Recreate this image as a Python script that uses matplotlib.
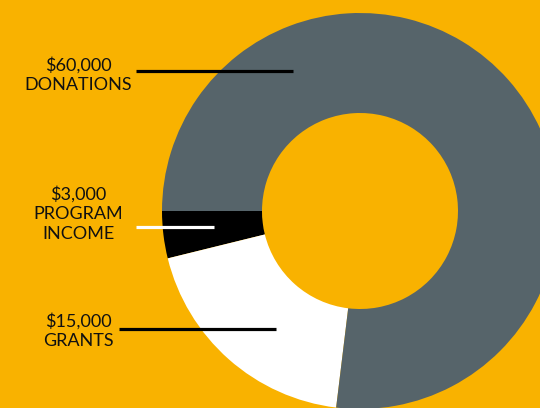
import matplotlib.pyplot as plt

# Data
categories = ['DONATIONS', 'PROGRAM\nINCOME', 'GRANTS']
amounts = [60000, 3000, 15000]
colors = {'DONATIONS': '#56646A', 'PROGRAM\nINCOME': '#000000', 'GRANTS': '#FFFFFF'}

# label layout (pixel space, y measured from top)
label_x = 78
label_y = {'DONATIONS': 75, 'PROGRAM\nINCOME': 214, 'GRANTS': 331}
leader = {'DONATIONS': (136, 293, 71, 'black'),
          'PROGRAM\nINCOME': (136, 214, 227, 'white'),
          'GRANTS': (119, 276, 329, 'black')}

bg = '#F9B200'
W, H = 540, 408

fig = plt.figure(figsize=(5.4, 4.08), dpi=100, facecolor=bg)
ax = fig.add_axes([0, 0, 1, 1])
ax.set_facecolor(bg)

# wedge order: program income, grants, donations, going counter-clockwise from the left
order = ['PROGRAM\nINCOME', 'GRANTS', 'DONATIONS']
vals = [amounts[categories.index(c)] for c in order]
ax.pie(vals, colors=[colors[c] for c in order], startangle=180, counterclock=True,
       center=(360, H - 211), radius=198,
       wedgeprops=dict(width=100, edgecolor='none', antialiased=True))

for c, v in zip(categories, amounts):
    txt = '${:,}\n{}'.format(v, c)
    ax.text(label_x, H - label_y[c], txt, ha='center', va='center',
            fontsize=13, family=['Lato', 'DejaVu Sans'], color='#111111',
            linespacing=1.3)
    x0, x1, y, col = leader[c]
    ax.plot([x0, x1], [H - y, H - y], color=col, lw=2.3, solid_capstyle='butt')

ax.set_xlim(0, W)
ax.set_ylim(0, H)
ax.set_aspect('equal')
ax.axis('off')

fig.savefig('out.png', dpi=100, facecolor=bg)
